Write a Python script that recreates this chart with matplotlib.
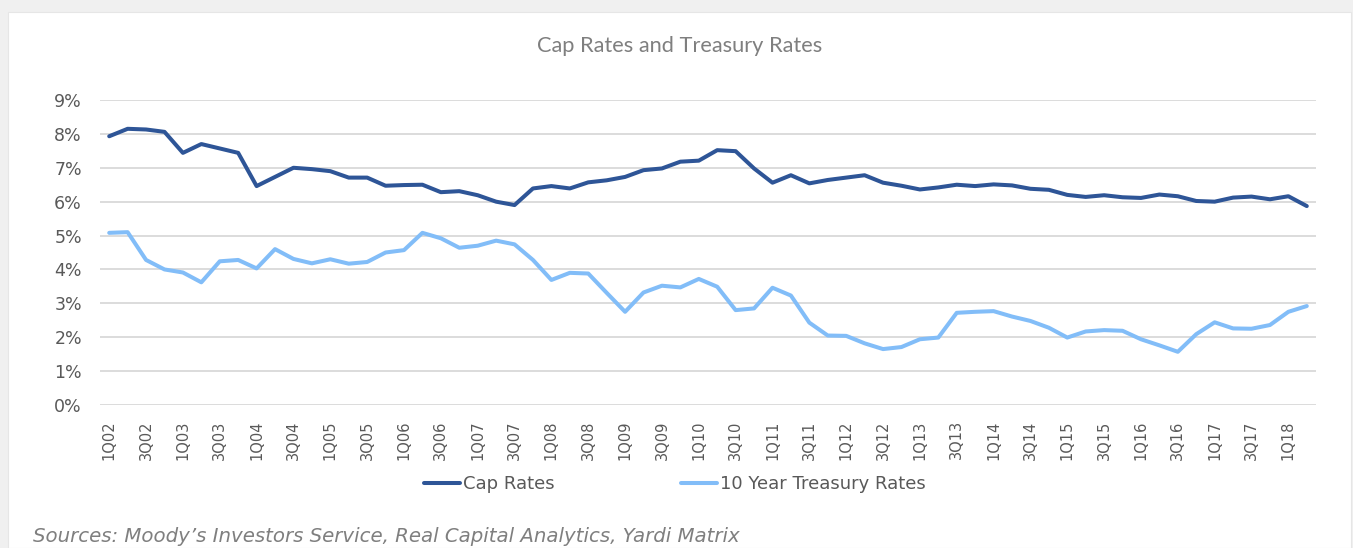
import matplotlib.pyplot as plt
from matplotlib.patches import Rectangle
from matplotlib.ticker import FuncFormatter

# quarters 1Q02 .. 2Q18
quarters = [f"{q}Q{y:02d}" for y in range(2, 19) for q in range(1, 5)][:66]

cap_rates = [7.93, 8.15, 8.13, 8.06, 7.44, 7.70, 7.57, 7.44, 6.46, 6.73,
             7.00, 6.96, 6.90, 6.71, 6.71, 6.47, 6.49, 6.50, 6.28, 6.31,
             6.19, 6.00, 5.90, 6.39, 6.46, 6.39, 6.57, 6.63, 6.73, 6.93,
             6.98, 7.18, 7.21, 7.52, 7.49, 6.98, 6.56, 6.78, 6.54, 6.64,
             6.71, 6.78, 6.56, 6.47, 6.36, 6.42, 6.50, 6.46, 6.51, 6.48,
             6.38, 6.35, 6.20, 6.14, 6.19, 6.13, 6.11, 6.21, 6.16, 6.02,
             6.00, 6.12, 6.15, 6.07, 6.16, 5.87]

treasury = [5.08, 5.10, 4.28, 4.00, 3.91, 3.62, 4.24, 4.28, 4.03, 4.60,
            4.31, 4.18, 4.30, 4.17, 4.22, 4.50, 4.57, 5.08, 4.92, 4.64,
            4.70, 4.85, 4.74, 4.28, 3.69, 3.90, 3.88, 3.31, 2.75, 3.32,
            3.52, 3.47, 3.72, 3.49, 2.80, 2.85, 3.46, 3.23, 2.43, 2.05,
            2.04, 1.82, 1.65, 1.71, 1.94, 1.99, 2.72, 2.75, 2.77, 2.61,
            2.48, 2.28, 1.99, 2.17, 2.21, 2.19, 1.94, 1.76, 1.57, 2.09,
            2.44, 2.26, 2.25, 2.36, 2.75, 2.92]

W, H = 1353, 548
fig = plt.figure(figsize=(W / 100, H / 100), dpi=100)
fig.patch.set_facecolor('#f0f0f0')
# white card with a soft frame
fig.patches.append(Rectangle((8 / W, 0), (1351 - 8) / W, 1 - 12 / H,
                             transform=fig.transFigure, facecolor='white',
                             edgecolor='#e6e6e6', linewidth=0.8, zorder=-10))

ax = fig.add_axes([100 / W, 1 - 405 / H, (1316 - 100) / W, (405 - 100) / H])
ax.set_facecolor('none')

x = list(range(len(quarters)))
ax.plot(x, cap_rates, color='#2e5597', linewidth=2.9, label='Cap Rates',
        solid_capstyle='round', solid_joinstyle='round', zorder=3)
ax.plot(x, treasury, color='#82bdf8', linewidth=2.9, label='10 Year Treasury Rates',
        solid_capstyle='round', solid_joinstyle='round', zorder=3)

ax.set_xlim(-0.5, len(quarters) - 0.5)
ax.set_ylim(0, 9)
ax.set_yticks(range(0, 10))
ax.yaxis.set_major_formatter(FuncFormatter(lambda v, p: f"{int(v)}%"))
ax.grid(axis='y', color='#d9d9d9', linewidth=1.3)
ax.set_axisbelow(True)

ax.set_xticks(x[::2])
ax.set_xticklabels(quarters[::2], rotation=90, ha='center', va='top')
ax.tick_params(axis='x', length=0, pad=11, labelsize=10.5, labelcolor='#595959')
ax.tick_params(axis='y', length=0, pad=13, labelsize=12.5, labelcolor='#595959')
for s in ax.spines.values():
    s.set_visible(False)

fig.text(680 / W, 1 - 46 / H, 'Cap Rates and Treasury Rates', ha='center', va='center',
         fontsize=15.7, color='#7f7f7f', family=['Lato', 'DejaVu Sans'])

leg = fig.legend(loc='center', bbox_to_anchor=(675 / W, 1 - 484 / H), ncol=2,
                 frameon=False, fontsize=13, handlelength=2.0, handletextpad=0.15,
                 columnspacing=7.0)
for t in leg.get_texts():
    t.set_color('#595959')

fig.text(33 / W, 1 - 536 / H,
         "Sources: Moody\u2019s Investors Service, Real Capital Analytics, Yardi Matrix",
         ha='left', va='center', fontsize=14.2, style='italic', color='#7f7f7f')

fig.savefig('out.png', dpi=100)
